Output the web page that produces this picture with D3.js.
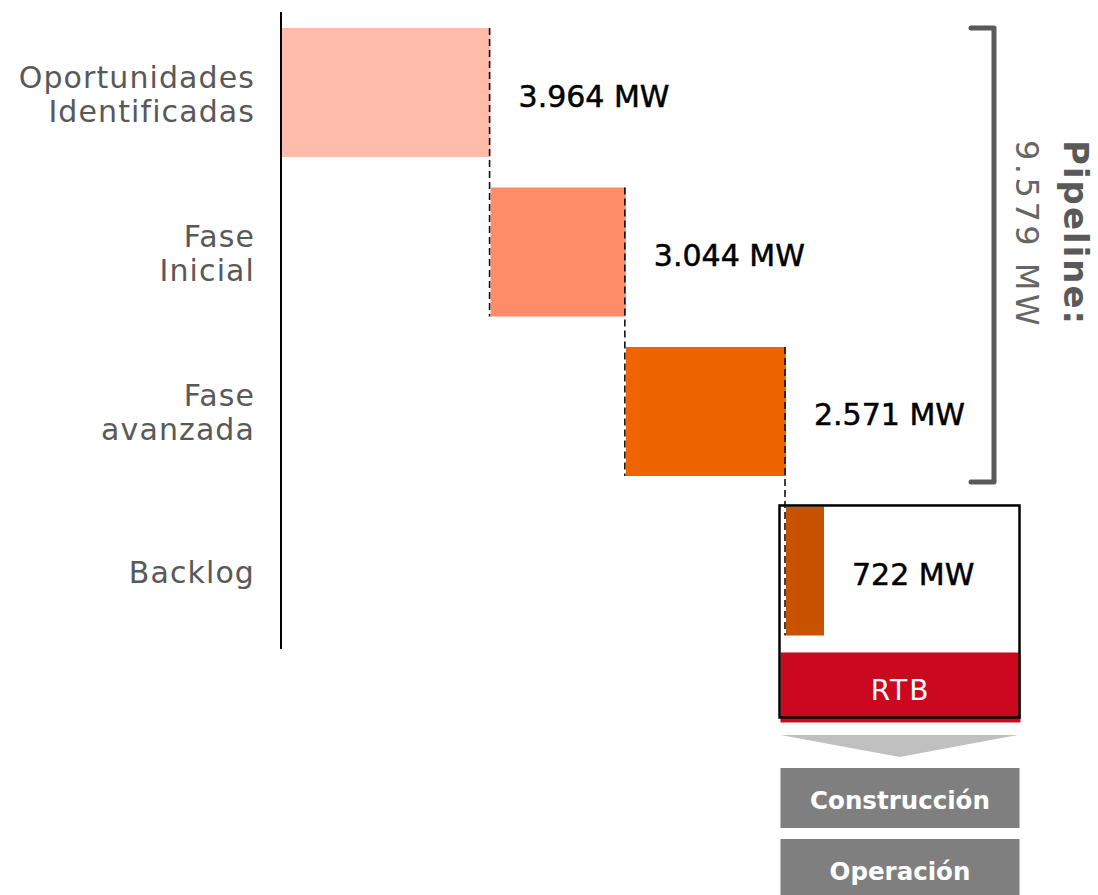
<!DOCTYPE html>
<html>
<head>
<meta charset="utf-8">
<script src="https://cdn.jsdelivr.net/npm/d3@7"></script>
<style>
  html, body { margin: 0; padding: 0; background: #fff; }
  svg { display: block; font-family: "DejaVu Sans", sans-serif; }
</style>
</head>
<body>
<div id="chart"></div>
<script>
// categorias y valores (MW)
const categories = ["Oportunidades Identificadas", "Fase Inicial", "Fase avanzada", "Backlog"];
const categoryLines = [["Oportunidades", "Identificadas"], ["Fase", "Inicial"], ["Fase", "avanzada"], ["Backlog"]];
const valueLabels = ["3.964 MW", "3.044 MW", "2.571 MW", "722 MW"];
// largo de cada barra tal como se ve en el grafico (MW aprox.)
const barMW = [3964, 2571, 3044, 722];
const barColors = ["#FFBCAB", "#FF8C69", "#EE6400", "#C85200"];
const pipelineTitle = "Pipeline:";
const pipelineValue = "9.579 MW";
const stageLabels = ["Construcción", "Operación"];

const width = 1098, height = 895;

const svg = d3.select("#chart").append("svg")
    .attr("width", width)
    .attr("height", height);

// acumulado para el waterfall
let acc = 0;
const bars = barMW.map((v, i) => {
    const d = { cat: categories[i], start: acc, end: acc + v, i: i };
    acc += v;
    return d;
});

const x = d3.scaleLinear()
    .domain([0, d3.sum(barMW)])
    .range([282, 824]);

const y = d3.scaleBand()
    .domain(categories)
    .range([28, 635.5])
    .paddingInner(0.191)
    .paddingOuter(0);

// caja RTB (fondo blanco)
const last = bars[bars.length - 1];
const boxX = 779.5, boxY = y(last.cat) - 1;
const boxW = 240, boxH = 212;
svg.append("rect")
    .attr("x", boxX).attr("y", boxY)
    .attr("width", boxW).attr("height", boxH)
    .attr("fill", "#fff");

svg.append("rect")
    .attr("x", boxX + 1).attr("y", boxY + 147)
    .attr("width", boxW).attr("height", 70)
    .attr("fill", "#CC0820");

svg.append("text")
    .attr("x", boxX + boxW / 2 + 1).attr("y", boxY + 195)
    .attr("text-anchor", "middle")
    .attr("fill", "#fff")
    .attr("font-size", 28)
    .attr("letter-spacing", 2)
    .text("RTB");

// barras
svg.selectAll(".bar")
    .data(bars)
    .enter()
    .append("rect")
    .attr("class", "bar")
    .attr("x", d => x(d.start))
    .attr("y", d => y(d.cat))
    .attr("width", d => x(d.end) - x(d.start))
    .attr("height", y.bandwidth())
    .attr("fill", (d, i) => barColors[i]);

// lineas punteadas de conexion
svg.selectAll(".conn")
    .data(bars.slice(0, -1))
    .enter()
    .append("line")
    .attr("x1", d => x(d.end) - 1)
    .attr("x2", d => x(d.end) - 1)
    .attr("y1", d => y(d.cat))
    .attr("y2", d => y(categories[d.i + 1]) + y.bandwidth())
    .attr("stroke", "#111")
    .attr("stroke-width", 1.6)
    .attr("stroke-dasharray", "7,4");

// borde caja RTB
svg.append("rect")
    .attr("x", boxX).attr("y", boxY)
    .attr("width", boxW).attr("height", boxH)
    .attr("fill", "none")
    .attr("stroke", "#000")
    .attr("stroke-width", 2.5);

// eje vertical
svg.append("line")
    .attr("x1", 281).attr("x2", 281)
    .attr("y1", 12).attr("y2", 649)
    .attr("stroke", "#000")
    .attr("stroke-width", 2);

// etiquetas de categoria
const catG = svg.selectAll(".cat")
    .data(bars)
    .enter()
    .append("text")
    .attr("class", "cat")
    .attr("text-anchor", "end")
    .attr("fill", "#595959")
    .attr("font-size", 30)
    .attr("letter-spacing", 1.1);

catG.selectAll("tspan")
    .data(d => categoryLines[d.i].map((t, k) => ({ t: t, k: k, d: d })))
    .enter()
    .append("tspan")
    .attr("x", 255)
    .attr("y", o => y(o.d.cat) + y.bandwidth() / 2 + 12 - (categoryLines[o.d.i].length - 1) * 17 + o.k * 34)
    .text(o => o.t);

// etiquetas de valor
svg.selectAll(".val")
    .data(bars)
    .enter()
    .append("text")
    .attr("class", "val")
    .attr("x", d => x(d.end) + 28)
    .attr("y", d => y(d.cat) + y.bandwidth() / 2 + 14)
    .attr("fill", "#000")
    .attr("stroke", "#000")
    .attr("stroke-width", 0.5)
    .attr("font-size", 30)
    .text((d, i) => valueLabels[i]);

// corchete del pipeline
const pipeTop = y(categories[0]);
const pipeBot = y(categories[2]) + y.bandwidth() + 6;
svg.append("path")
    .attr("d", `M971,${pipeTop} H994 V${pipeBot} H971`)
    .attr("fill", "none")
    .attr("stroke", "#595959")
    .attr("stroke-width", 5)
    .attr("stroke-linecap", "round")
    .attr("stroke-linejoin", "round");

svg.append("text")
    .attr("transform", "translate(1064,140) rotate(90)")
    .attr("fill", "#595959")
    .attr("font-weight", "bold")
    .attr("font-size", 34)
    .attr("letter-spacing", 2)
    .text(pipelineTitle);

svg.append("text")
    .attr("transform", "translate(1016,140) rotate(90)")
    .attr("fill", "#666")
    .attr("font-weight", 400)
    .attr("font-size", 32)
    .attr("letter-spacing", 3.5)
    .text(pipelineValue);

// flecha gris
const ax0 = boxX + 1, ax1 = boxX + boxW - 1;
svg.append("path")
    .attr("d", `M${ax0},735 L${ax1},735 L${(ax0 + ax1) / 2},757 Z`)
    .attr("fill", "#C0C0C0");

// cajas de etapas
const stageY = [768, 839];
stageLabels.forEach((s, i) => {
    svg.append("rect")
        .attr("x", boxX + 1).attr("y", stageY[i])
        .attr("width", boxW - 1).attr("height", 60)
        .attr("fill", "#7F7F7F");
    svg.append("text")
        .attr("x", boxX + 1 + (boxW - 1) / 2)
        .attr("y", stageY[i] + 41)
        .attr("text-anchor", "middle")
        .attr("fill", "#fff")
        .attr("font-weight", "bold")
        .attr("font-size", 24.5)
        .text(s);
});
</script>
</body>
</html>
